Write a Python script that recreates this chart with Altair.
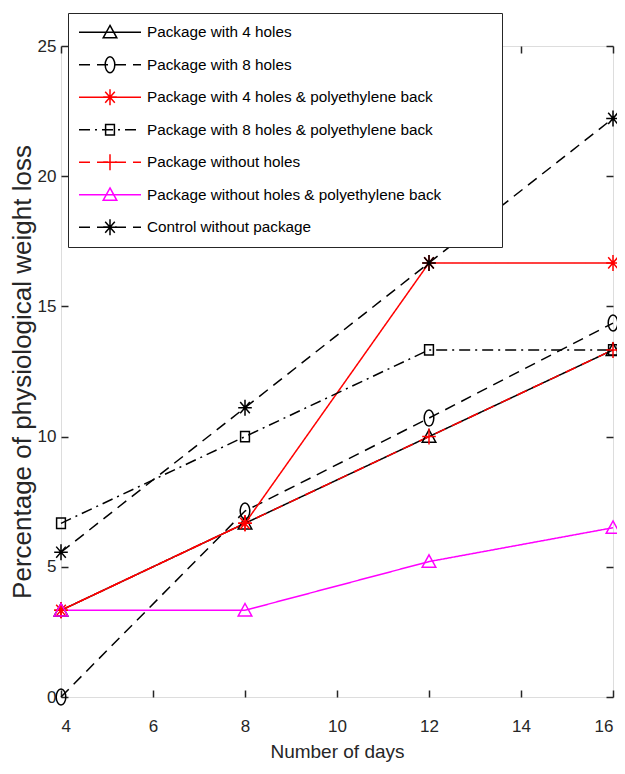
import altair as alt
import pandas as pd

days = [4, 8, 12, 16]
series_names = [
    "Package with 4 holes",
    "Package with 8 holes",
    "Package with 4 holes & polyethylene back",
    "Package with 8 holes & polyethylene back",
    "Package without holes",
    "Package without holes & polyethylene back",
    "Control without package",
]
v_4holes = [3.33, 6.67, 10.0, 13.33]
v_8holes = [0.0, 7.14, 10.71, 14.36]
v_4holes_pe = [3.33, 6.67, 16.67, 16.67]
v_8holes_pe = [6.67, 10.0, 13.33, 13.33]
v_noholes = [3.33, 6.67, 10.0, 13.33]
v_noholes_pe = [3.33, 3.33, 5.2, 6.5]
v_control = [5.56, 11.11, 16.67, 22.22]
all_values = [v_4holes, v_8holes, v_4holes_pe, v_8holes_pe, v_noholes, v_noholes_pe, v_control]

x_ticks = [4, 6, 8, 10, 12, 14, 16]
y_ticks = [0, 5, 10, 15, 20, 25]

colors = ["#000000", "#000000", "#ff0000", "#000000", "#ff0000", "#ff00ff", "#000000"]
dashes = [[1, 0], [11, 7], [1, 0], [11, 5, 2, 5], [11, 7], [1, 0], [11, 7]]
tri = "M0,-0.85L0.85,0.7L-0.85,0.7Z"
ell = "M-0.6,0A0.6,1 0 1,0 0.6,0A0.6,1 0 1,0 -0.6,0Z"
ast = "M-0.85,0L0.85,0M0,-1L0,1M-0.6,-0.7L0.6,0.7M-0.6,0.7L0.6,-0.7"
sq = "M-0.55,-0.65L0.55,-0.65L0.55,0.65L-0.55,0.65Z"
plus = "M-0.85,0L0.85,0M0,-1L0,1"
shapes = [tri, ell, ast, sq, plus, tri, ast]
marker_keys = ["m%d" % i for i in range(len(series_names))]

rows = []
for i, name in enumerate(series_names):
    for d, v in zip(days, all_values[i]):
        rows.append({"series": name, "series_m": marker_keys[i], "day": d, "value": v})
df = pd.DataFrame(rows)

FONT = "Liberation Sans, Arial, sans-serif"
INK = "#262626"
FS = 15.3
BLANK = "\u2800"

xscale = alt.Scale(domain=[4, 16], nice=False, zero=False)
yscale = alt.Scale(domain=[0, 25], nice=False, zero=False)

common_axis = dict(grid=False, domain=False, ticks=True, tickSize=7, offset=-7,
                   tickColor=INK, tickWidth=1.5, labelFont=FONT, labelFontSize=17,
                   labelColor=INK)

bottom_axis = alt.Axis(orient="bottom", values=x_ticks, labelPadding=21,
                       title="Number of days", titleFont=FONT, titleFontSize=19,
                       titleFontWeight="normal", titleColor=INK, titlePadding=8,
                       **common_axis)
left_axis = alt.Axis(orient="left", values=y_ticks, labelPadding=5,
                     title="Percentage of physiological weight loss", titleFont=FONT,
                     titleFontSize=26, titleFontWeight="normal", titleColor=INK,
                     titlePadding=2, **common_axis)
top_axis = alt.Axis(orient="top", values=x_ticks, labels=False, title=None, **common_axis)
right_axis = alt.Axis(orient="right", values=y_ticks, labels=False, title=None, **common_axis)

LX, LY = 7, -33
leg_common = dict(orient="none", legendX=LX, legendY=LY, padding=10,
                  labelFont=FONT, labelFontSize=FS, labelColor="#000000",
                  labelLimit=600, rowPadding=13.5, clipHeight=18.5, zindex=1)

leg1 = alt.Legend(symbolType="stroke", symbolSize=3844, symbolStrokeWidth=1.5,
                  labelOffset=5, strokeColor=INK, fillColor="white",
                  title=BLANK, titleOrient="right", titlePadding=40,
                  titleFontSize=FS, titleColor="white", **leg_common)
leg2 = alt.Legend(symbolSize=256, symbolStrokeWidth=1.5, symbolOffset=23,
                  symbolFillColor="transparent", labelOffset=5, title=None,
                  labelExpr="''", **leg_common)

lines = alt.Chart(df).mark_line(strokeWidth=1.5).encode(
    x=alt.X("day:Q", scale=xscale, axis=bottom_axis),
    y=alt.Y("value:Q", scale=yscale, axis=left_axis),
    color=alt.Color("series:N", scale=alt.Scale(domain=series_names, range=colors), legend=leg1),
    strokeDash=alt.StrokeDash("series:N", scale=alt.Scale(domain=series_names, range=dashes), legend=leg1),
    order=alt.Order("day:Q"),
)

points = alt.Chart(df).mark_point(filled=False, size=256, strokeWidth=1.5, opacity=1).encode(
    x=alt.X("day:Q", scale=xscale, axis=top_axis),
    y=alt.Y("value:Q", scale=yscale, axis=right_axis),
    shape=alt.Shape("series_m:N", scale=alt.Scale(domain=marker_keys, range=shapes), legend=leg2),
    stroke=alt.Stroke("series_m:N", scale=alt.Scale(domain=marker_keys, range=colors), legend=leg2),
)

chart = alt.layer(lines, points).resolve_axis(x="independent", y="independent").properties(
    width=552, height=651,
    autosize=alt.AutoSizeParams(type="none"),
    padding={"left": 53, "top": 38, "right": 4, "bottom": 68},
).configure_view(stroke=INK, strokeWidth=1.5).configure(background="white")

chart.save("out.html", embed_options={"renderer": "svg", "actions": False})
